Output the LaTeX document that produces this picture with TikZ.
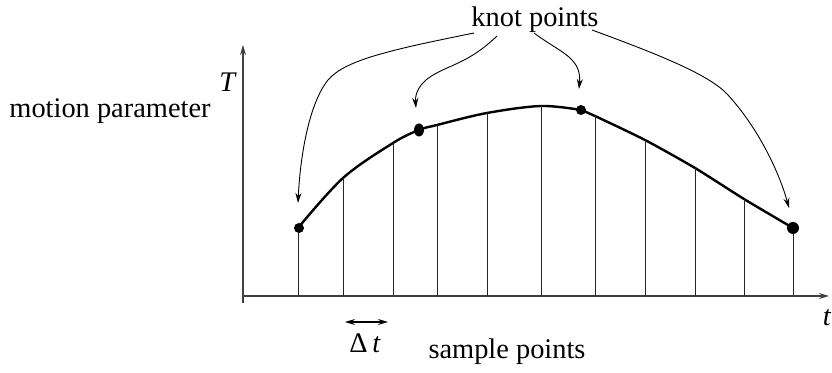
\documentclass[tikz,border=0pt]{standalone}
\usepackage{fontspec}
\setmainfont{Liberation Serif}
\usetikzlibrary{arrows.meta,shapes.geometric}
\begin{document}
\begin{tikzpicture}[x=0.5pt,y=-0.5pt,
  lbl/.style={inner sep=0pt, font=\fontsize{14.2}{16}\selectfont},
  axis/.style={draw=black!75, line width=0.7pt, -{Stealth[length=5pt,width=3pt]}},
  sample/.style={draw=black!85, line width=0.45pt},
  knot/.style={circle, fill=black, inner sep=0pt, minimum size=5pt},
  pointer/.style={draw, line width=0.45pt, -{Stealth[length=5pt,width=3pt]}},
  curve/.style={draw, line width=1.2pt}]
\useasboundingbox (0,0) rectangle (832,373);
% axes
\coordinate (O) at (243,296);
\coordinate (Ytip) at (243,45);
\coordinate (Xtip) at (829,296);
\draw[axis] (243,303) -- (Ytip);
\draw[axis] (O) -- (Xtip);
% curve
\draw[curve] plot[smooth, tension=0.55] coordinates {(298,228) (343,178) (393,143) (419,130) (437,125) (487,113) (541,106) (581,110)};
\draw[curve] plot[smooth, tension=0.4] coordinates {(581,110) (595,116) (645,140) (695,168) (744,199) (793,228)};
% sample lines
\foreach \x/\y in {298/228, 343/178, 393/143, 437/125, 487/113, 541/106, 595/116, 645/140, 695/168, 744/199, 793/228}
  \draw[sample] (\x,296) -- (\x,\y);
% knots
\node[knot] (k1) at (299,228) {};
\node[ellipse, fill=black, inner sep=0pt, minimum width=5pt, minimum height=6.5pt] (k2) at (419,130) {};
\node[knot] (k3) at (581,110) {};
\node[knot, minimum size=6pt] (k4) at (793,228) {};
% labels
\node[lbl] (kp) at (535,20) {knot points};
\node[lbl] (T) at (228,82) {\textit{T}};
\node[lbl] (mp) at (110,111) {motion parameter};
\node[lbl] (t) at (827,318) {\textit{t}};
\node[lbl] (dt) at (365,343) {Δ\,\textit{t}};
\node[lbl] (sp) at (507,352) {sample points};
% delta t arrow
\coordinate (da) at (345,322);
\coordinate (db) at (388,322);
\draw[line width=0.6pt, {Stealth[length=5pt,width=3pt]}-{Stealth[length=5pt,width=3pt]}] (da) -- (db);
% pointers
\coordinate (p1) at (298,203);
\coordinate (p2) at (416,108);
\coordinate (p3) at (579,89);
\coordinate (p4) at (789,208);
\draw[pointer] (474,33) .. controls (390,50) and (345,60) .. (328,80) .. controls (308,105) and (300,160) .. (p1);
\draw[pointer] (497,36) .. controls (470,62) and (450,65) .. (435,74) .. controls (418,83) and (415,95) .. (p2);
\draw[pointer] (534,33) .. controls (550,45) and (565,52) .. (572,60) .. controls (580,68) and (580,78) .. (p3);
\draw[pointer] (592,30) .. controls (660,55) and (710,75) .. (728,95) .. controls (760,130) and (780,175) .. (p4);
\end{tikzpicture}
\end{document}
